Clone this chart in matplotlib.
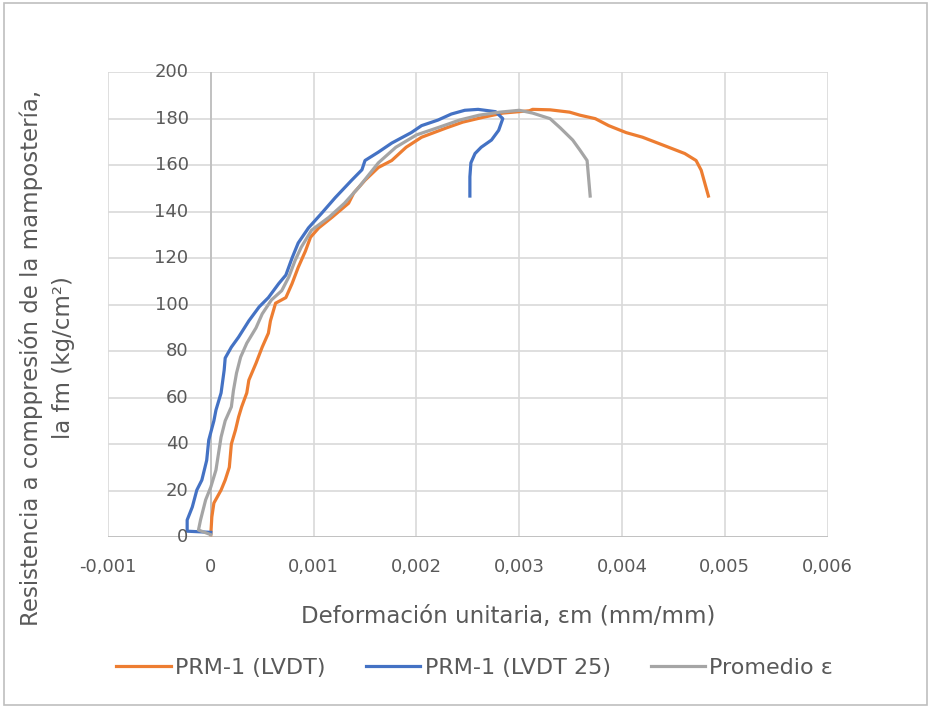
import matplotlib.pyplot as plt
from matplotlib.patches import Rectangle

# strain (mm/mm) and stress (kg/cm2)
lvdt_x = [0.0, 0.00001, 0.00003, 0.0001, 0.00014, 0.00018, 0.0002, 0.00024, 0.00027, 0.0003,
          0.00035, 0.00037, 0.00044, 0.0005, 0.00056, 0.00058, 0.00063, 0.00073, 0.00079, 0.00085,
          0.00092, 0.00097, 0.00105, 0.00118, 0.00134, 0.00139, 0.0015, 0.00163, 0.00176, 0.0019,
          0.00205, 0.00229, 0.00245, 0.00265, 0.00284, 0.0031, 0.00313, 0.0033, 0.00349, 0.00359,
          0.00374, 0.00387, 0.00404, 0.0042, 0.0044, 0.00461, 0.00472, 0.00477, 0.00484]
lvdt_y = [1, 8.6, 14.6, 20.2, 24.5, 30, 40, 46, 51.6, 56,
          62, 67.5, 74.8, 81.7, 87.7, 93, 100.6, 103, 109, 116,
          123, 129, 133, 137.6, 143.6, 148, 153.5, 159, 162, 167.7,
          172, 176, 178.5, 180.6, 182.4, 183.4, 184, 183.8, 182.8, 181.5,
          180, 177, 174, 172, 168.6, 165, 162, 157.8, 146.7]

lvdt25_x = [0.0, -0.00023, -0.00023, -0.00018, -0.000136, -0.000087, -0.00004, -0.00002, 0.00003, 0.00005,
            0.0001, 0.00013, 0.00014, 0.0002, 0.00027, 0.00037, 0.00047, 0.00056, 0.00066, 0.00073,
            0.00079, 0.00085, 0.00095, 0.00108, 0.00121, 0.00137, 0.00147, 0.00150, 0.00163, 0.00176,
            0.00195, 0.00205, 0.00221, 0.00234, 0.00247, 0.0026, 0.00277, 0.00284, 0.0028, 0.00273,
            0.00263, 0.00257, 0.00253, 0.00252, 0.00252]
lvdt25_y = [2, 2.5, 7.3, 12.9, 20.2, 24.5, 33, 41.7, 50, 54.6,
            62, 71.8, 77, 81.7, 86, 93, 99, 103, 109, 112.7,
            120, 126.5, 133, 139.4, 146, 153.5, 158, 162, 165.6, 169.5,
            174, 177, 179.4, 182, 183.6, 184, 183, 180, 175, 170.8,
            167.7, 165, 161, 155, 146.7]

prom_x = [0.0, -0.00012, -0.0001, -0.00005, 0.0, 0.00005, 0.00008, 0.0001, 0.00014, 0.0002,
          0.00022, 0.00025, 0.00029, 0.00035, 0.00044, 0.0005, 0.00059, 0.00069, 0.00076, 0.00082,
          0.00088, 0.00098, 0.00115, 0.0013, 0.00144, 0.00163, 0.0018, 0.002, 0.00222, 0.00242,
          0.00261, 0.00281, 0.0030, 0.00313, 0.0033, 0.0034, 0.00352, 0.00359, 0.00366, 0.00369]
prom_y = [1, 3, 7.3, 16, 21.5, 28.8, 37.4, 43, 50, 56,
          63, 70.5, 77.4, 83.4, 90, 96, 102, 106, 112, 119,
          124.7, 132, 137.6, 143.6, 150.5, 161, 167.7, 173, 176.3, 179.4,
          181.5, 182.8, 183.6, 182.4, 180, 176, 170.8, 166.5, 162, 146.7]

x_ticks = [-0.001, 0, 0.001, 0.002, 0.003, 0.004, 0.005, 0.006]
x_labels = ["-0,001", "0", "0,001", "0,002", "0,003", "0,004", "0,005", "0,006"]
y_ticks = list(range(0, 201, 20))

txt = "#595959"
plt.rcParams['font.family'] = ['DejaVu Sans']

fig = plt.figure(figsize=(9.31, 7.09), dpi=100)
fig.patches.append(Rectangle((0.004, 0.006), 0.992, 0.99, transform=fig.transFigure,
                             fill=False, edgecolor="#BFBFBF", linewidth=1.2))
ax = fig.add_axes([0.116, 0.2426, 0.773, 0.6556])

ax.plot(lvdt_x, lvdt_y, color="#ED7D31", lw=2.3, label="PRM-1 (LVDT)", solid_joinstyle="round")
ax.plot(lvdt25_x, lvdt25_y, color="#4472C4", lw=2.3, label="PRM-1 (LVDT 25)", solid_joinstyle="round")
ax.plot(prom_x, prom_y, color="#A5A5A5", lw=2.3, label="Promedio ε", solid_joinstyle="round")

ax.set_xlim(-0.001, 0.006)
ax.set_ylim(0, 200)
ax.set_xticks(x_ticks)
ax.set_xticklabels(x_labels, fontsize=13, color=txt)
ax.set_yticks(y_ticks)
ax.set_yticklabels([])
ax.tick_params(length=0, pad=15)
ax.grid(True, color="#D9D9D9", lw=1.2)
ax.set_axisbelow(True)
for s in ax.spines.values():
    s.set_visible(False)
ax.axvline(0, color="#BFBFBF", lw=1.3, zorder=1)
ax.axhline(0, color="#BFBFBF", lw=1.3, zorder=1)

# y tick labels sit next to the vertical axis at x = 0
for v in y_ticks:
    ax.annotate(str(v), (0, v), xytext=(-16, 0), textcoords="offset points",
                ha="right", va="center", fontsize=13, color=txt)

fig.text(0.546, 0.13, "Deformación unitaria, εm (mm/mm)", ha="center", va="center",
         fontsize=16.5, color=txt)
fig.text(0.05, 0.495, "Resistencia a comppresión de la mampostería,\nla fm (kg/cm²)",
         rotation=90, ha="center", va="center", fontsize=16.5, color=txt, linespacing=1.5)

fig.legend(loc="center", bbox_to_anchor=(0.51, 0.058), ncol=3, frameon=False, fontsize=16,
           handlelength=2.45, handletextpad=0.2, columnspacing=1.8, labelcolor=txt)

plt.savefig("out.png", dpi=100)
